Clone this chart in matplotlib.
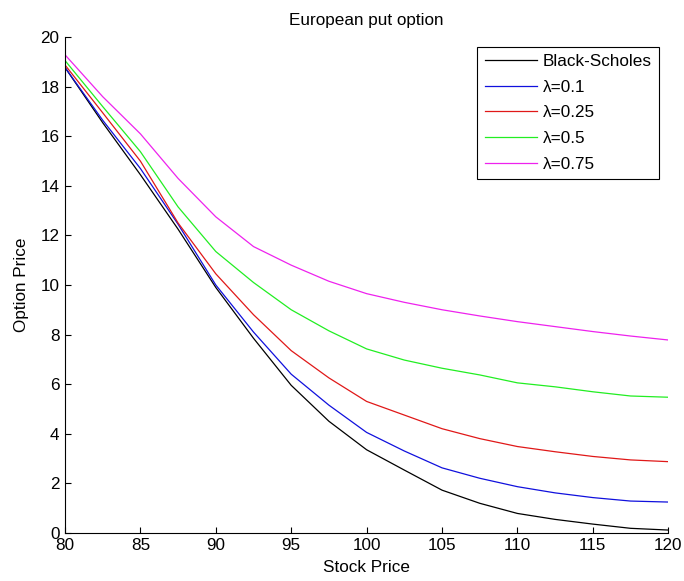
import matplotlib.pyplot as plt
import numpy as np

plt.rcParams['font.family'] = ['Liberation Sans', 'DejaVu Sans']

# stock prices and option prices
stock = [80, 82.5, 85, 87.5, 90, 92.5, 95, 97.5, 100, 102.5, 105, 107.5, 110, 112.5, 115, 117.5, 120]
bs = [18.78, 16.55, 14.45, 12.25, 9.9, 7.85, 5.95, 4.5, 3.35, 2.53, 1.72, 1.19, 0.78, 0.54, 0.35, 0.18, 0.11]
lam_01 = [18.78, 16.65, 14.7, 12.45, 10.0, 8.1, 6.4, 5.15, 4.05, 3.3, 2.62, 2.2, 1.86, 1.61, 1.42, 1.28, 1.24]
lam_025 = [18.88, 16.95, 15.0, 12.5, 10.45, 8.8, 7.35, 6.25, 5.3, 4.75, 4.2, 3.8, 3.48, 3.27, 3.08, 2.94, 2.87]
lam_05 = [19.06, 17.2, 15.38, 13.15, 11.35, 10.1, 9.0, 8.15, 7.42, 6.97, 6.64, 6.37, 6.05, 5.89, 5.69, 5.52, 5.47]
lam_075 = [19.29, 17.6, 16.1, 14.3, 12.75, 11.55, 10.8, 10.15, 9.65, 9.3, 9.0, 8.75, 8.52, 8.32, 8.12, 7.94, 7.78]

series = [bs, lam_01, lam_025, lam_05, lam_075]
labels = ['Black-Scholes', 'λ=0.1', 'λ=0.25', 'λ=0.5', 'λ=0.75']
colors = ['black', '#1010dd', '#e01818', '#22ee22', '#ee22ee']

fs = 12.3

fig = plt.figure(figsize=(6.84, 5.81), dpi=100)
ax = fig.add_axes([0.095, 0.083, 0.882, 0.853])

for y, lab, c in zip(series, labels, colors):
    ax.plot(stock, y, color=c, linewidth=0.9, label=lab)

ax.set_xlim(80, 120)
ax.set_ylim(0, 20)
ax.set_xticks(np.arange(80, 121, 5))
ax.set_yticks(np.arange(0, 21, 2))
ax.spines['top'].set_visible(False)
ax.spines['right'].set_visible(False)
ax.tick_params(direction='in', length=4, labelsize=fs, pad=4)

ax.set_xlabel('Stock Price', fontsize=fs, labelpad=5)
ax.set_ylabel('Option Price', fontsize=fs, labelpad=8)
ax.set_title('European put option', fontsize=fs, pad=8.5)

leg = ax.legend(loc='upper right', bbox_to_anchor=(0.985, 0.981), borderaxespad=0,
                fontsize=fs, fancybox=False, edgecolor='black', framealpha=1,
                handlelength=3.05, handletextpad=0.33, borderpad=0.45, labelspacing=0.62)
leg.get_frame().set_linewidth(0.8)

fig.savefig('out.png', dpi=100)
